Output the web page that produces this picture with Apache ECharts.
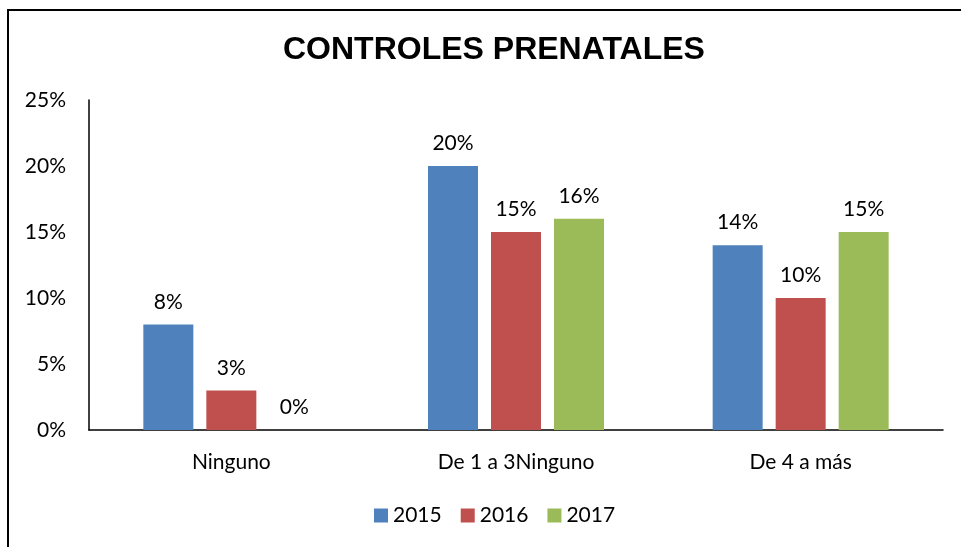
<!DOCTYPE html>
<html>
<head>
<meta charset="utf-8">
<script src="https://cdn.jsdelivr.net/npm/echarts@6/dist/echarts.min.js"></script>
<style>
  html, body { margin: 0; padding: 0; background: #fff; }
  #main { width: 961px; height: 547px; }
</style>
</head>
<body>
<div id="main"></div>
<script>
// datos del grafico
var categorias = ['Ninguno', 'De 1 a 3Ninguno', 'De 4 a más'];
var anios = ['2015', '2016', '2017'];
var valores2015 = [8, 20, 14];
var valores2016 = [3, 15, 10];
var valores2017 = [0, 16, 15];
var colores = ['#4f81bd', '#c0504d', '#9bbb59'];

var fuente = 'Lato, "Open Sans", sans-serif';

function serie(nombre, datos) {
    return {
        name: nombre,
        type: 'bar',
        data: datos,
        barWidth: 50,
        barGap: '26%',
        label: {
            show: true,
            position: 'top',
            distance: 12,
            formatter: '{c}%',
            color: '#000',
            fontSize: 21,
            fontFamily: fuente
        }
    };
}

var chart = echarts.init(document.getElementById('main'));
var option = {
    backgroundColor: '#ffffff',
    color: colores,
    animation: false,
    title: {
        text: 'CONTROLES PRENATALES',
        left: 278,
        top: 29,
        textStyle: {
            fontFamily: '"Liberation Sans", Arial, sans-serif',
            fontWeight: 'bold',
            fontSize: 32,
            color: '#000'
        }
    },
    legend: {
        data: anios,
        left: 369,
        bottom: 16,
        itemWidth: 14,
        itemHeight: 14,
        itemGap: 19,
        icon: 'rect',
        textStyle: { fontSize: 21, fontFamily: fuente, color: '#000' }
    },
    grid: { left: 89, right: 18, top: 100, bottom: 117 },
    xAxis: {
        type: 'category',
        data: categorias,
        axisTick: { show: false },
        axisLine: { lineStyle: { color: '#000', width: 1.5 } },
        axisLabel: { color: '#000', fontSize: 21, fontFamily: fuente, margin: 22 }
    },
    yAxis: {
        type: 'value',
        min: 0,
        max: 25,
        interval: 5,
        splitLine: { show: false },
        axisTick: { show: false },
        axisLine: { show: true, lineStyle: { color: '#000', width: 1.5 } },
        axisLabel: { color: '#000', fontSize: 21, fontFamily: fuente, margin: 23, formatter: '{value}%' }
    },
    graphic: [{
        type: 'rect',
        shape: { x: 8, y: 10, width: 1000, height: 600 },
        style: { fill: 'none', stroke: '#000', lineWidth: 2 },
        silent: true
    }],
    series: [
        serie(anios[0], valores2015),
        serie(anios[1], valores2016),
        serie(anios[2], valores2017)
    ]
};
chart.setOption(option);
</script>
</body>
</html>
